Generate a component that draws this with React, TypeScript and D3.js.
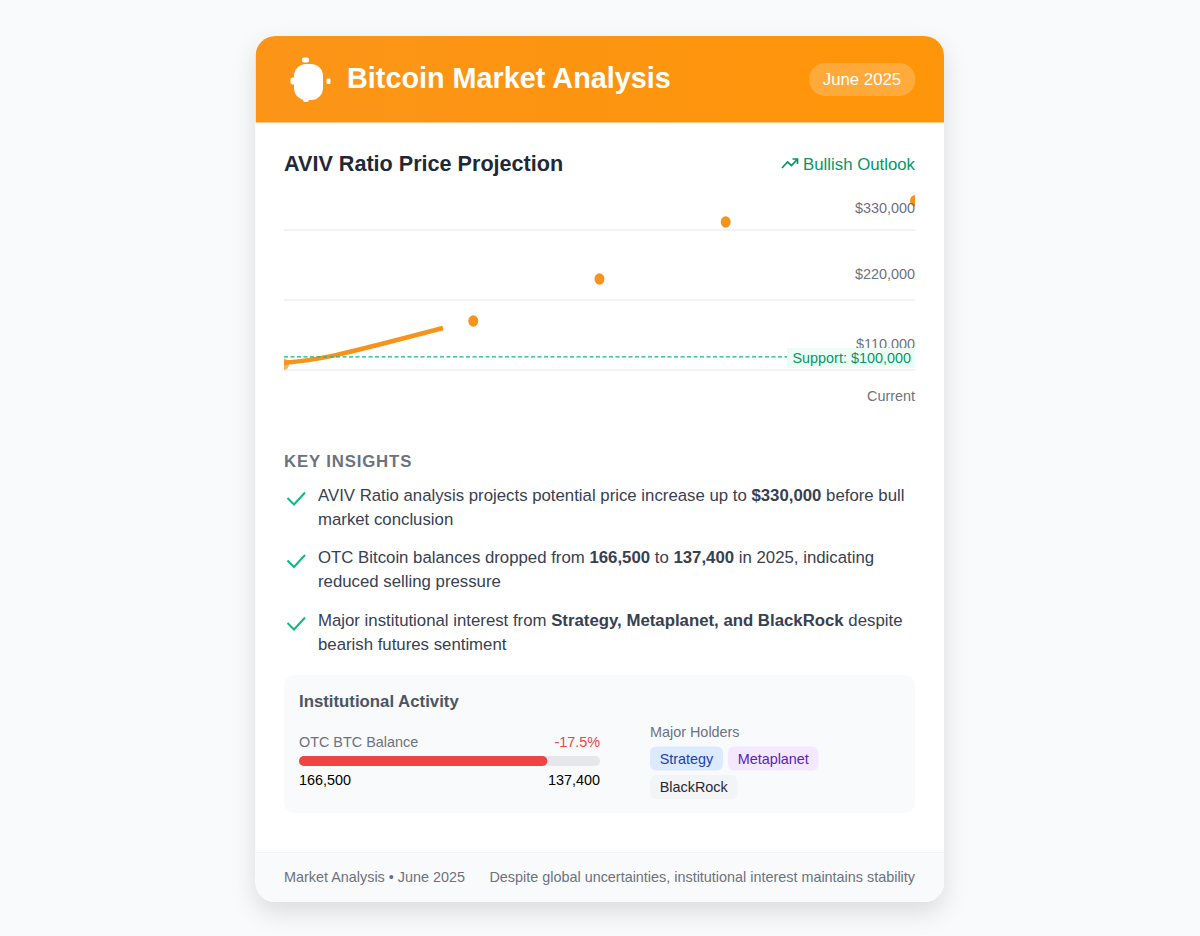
import * as React from "react";
import * as d3 from "d3";

const gridValues = [110000, 220000, 330000];
const gridLabels = ["$110,000", "$220,000", "$330,000"];
// position along the projection, in percent of the plot width
const curvePositions = [0, 8, 25.2];
const curveValues = [121500, 133000, 176000];
const dotPositions = [0, 30, 50, 70, 100];
const dotValues = [119000, 187000, 253000, 342500, 376000];
// the reference draws the support line above its nominal place on the grid
const supportPlotted = 130500;
const supportLabel = "Support: $100,000";

const insights = [
  [["AVIV Ratio analysis projects potential price increase up to ", false], ["$330,000", true], [" before bull", false]],
  [["market conclusion", false]],
  [["OTC Bitcoin balances dropped from ", false], ["166,500", true], [" to ", false], ["137,400", true], [" in 2025, indicating", false]],
  [["reduced selling pressure", false]],
  [["Major institutional interest from ", false], ["Strategy, Metaplanet, and BlackRock", true], [" despite", false]],
  [["bearish futures sentiment", false]],
] as [string, boolean][][];
const insightBaselines = [501, 525, 563, 587, 625.5, 649.5];
const checkOffsets = [0, 62.5, 125];

const otcStart = 166500;
const otcEnd = 137400;

const tags = [
  { name: "Strategy", x: 650, y: 746.5, w: 73, bg: "#dbeafe", fg: "#1e40af" },
  { name: "Metaplanet", x: 728, y: 746.5, w: 90.5, bg: "#f3e8ff", fg: "#5b21b6" },
  { name: "BlackRock", x: 650, y: 775, w: 87.5, bg: "#f3f4f6", fg: "#1f2937" },
];

const font = "'Liberation Sans', Arial, sans-serif";

export default function App() {
  const x = d3.scaleLinear().domain([0, 100]).range([284, 915]);
  const y = d3.scaleLinear().domain([110000, 330000]).range([370, 230]);
  const curve = d3.line<number>()
    .x((d) => x(curvePositions[d]))
    .y((d) => y(curveValues[d]))
    .curve(d3.curveNatural);
  const bar = d3.scaleLinear().domain([0, otcStart]).range([0, 301]);
  const checkPath = "M287.5 498 L294 504.5 L305 492.5";

  return (
    <svg width={1200} height={936} style={{ position: "absolute", left: 0, top: 0 }} fontFamily={font}>
      <defs>
        <filter id="cardShadow" x="-20%" y="-20%" width="140%" height="140%">
          <feDropShadow dx="0" dy="10" stdDeviation="12" floodColor="#000" floodOpacity="0.12" />
        </filter>
        <clipPath id="cardClip">
          <rect x={255.5} y={36} width={688.5} height={866} rx={20} />
        </clipPath>
        <clipPath id="plotClip">
          <rect x={284} y={190} width={631} height={200} />
        </clipPath>
        <linearGradient id="headerFill" x1="0" y1="0" x2="1" y2="0">
          <stop offset="0" stopColor="#fc9418" />
          <stop offset="1" stopColor="#ff9508" />
        </linearGradient>
      </defs>
      <rect width={1200} height={936} fill="#f9fafb" />
      <rect x={255.5} y={36} width={688.5} height={866} rx={20} fill="#fff" filter="url(#cardShadow)" />

      <g clipPath="url(#cardClip)">
        <rect x={255.5} y={36} width={688.5} height={86.5} fill="url(#headerFill)" />
        <rect x={255.5} y={852} width={688.5} height={50} fill="#f9fafb" />
        <line x1={255.5} x2={944} y1={852.5} y2={852.5} stroke="#f3f4f6" />
      </g>

      {/* header icon */}
      <g fill="#fff">
        <rect x={294} y={64} width={29} height={36} rx={12} />
        <rect x={302} y={57.5} width={7} height={5} rx={2} />
        <rect x={290.5} y={77.5} width={6} height={7} rx={2} />
        <rect x={326.5} y={78.5} width={4} height={5.5} rx={1} />
        <rect x={303} y={97} width={6} height={5} rx={2.5} />
      </g>
      <text x={347} y={88} fontSize={28.8} fontWeight={700} fill="#fff">Bitcoin Market Analysis</text>
      <rect x={809} y={63} width={106.5} height={33} rx={16.5} fill="#fff" fillOpacity={0.2} />
      <text x={862} y={85} fontSize={16.8} textAnchor="middle" fill="#fff">June 2025</text>

      {/* chart heading */}
      <text x={284} y={171} fontSize={21.6} fontWeight={700} fill="#1f2937">AVIV Ratio Price Projection</text>
      <path d="M782 168 L787.5 162 L791.5 165.5 L797 159.5 M792.5 159 L797.5 159 L797.5 164" fill="none" stroke="#059669" strokeWidth={1.7} />
      <text x={915} y={169.5} fontSize={16.8} textAnchor="end" fill="#059669">Bullish Outlook</text>

      {/* plot */}
      {gridValues.map((v) => (
        <line key={v} x1={284} x2={915} y1={y(v)} y2={y(v)} stroke="#e5e7eb" strokeWidth={1} />
      ))}
      <g clipPath="url(#plotClip)">
        <path d={curve(curvePositions.map((_, i) => i)) ?? ""} fill="none" stroke="#f7931a" strokeWidth={4.5} />
        {dotPositions.map((p, i) => (
          <ellipse key={p} cx={x(p)} cy={y(dotValues[i])} rx={5} ry={5.7} fill="#f7931a" fillOpacity={i === 0 ? 0.7 : 1} />
        ))}
      </g>
      {gridLabels.map((l, i) => (
        <text key={l} x={915} y={y(gridValues[i]) - (i === 2 ? 17 : 21)} fontSize={14.4} textAnchor="end" fill="#6b7280">{l}</text>
      ))}
      <line x1={284} x2={787} y1={y(supportPlotted)} y2={y(supportPlotted)} stroke="#10b981" strokeWidth={1.2} strokeDasharray="4 2.5" />
      <rect x={787} y={348} width={128} height={20} fill="#ecfdf5" />
      <text x={792.5} y={362.5} fontSize={14.4} fill="#059669">{supportLabel}</text>
      <text x={915} y={401} fontSize={14.4} textAnchor="end" fill="#6b7280">Current</text>

      {/* insights */}
      <text x={284} y={467} fontSize={16.8} fontWeight={700} letterSpacing={0.84} fill="#6b7280">KEY INSIGHTS</text>
      {checkOffsets.map((o) => (
        <path key={o} d={checkPath} transform={`translate(0,${o})`} fill="none" stroke="#10b981" strokeWidth={2} />
      ))}
      {insights.map((line, i) => (
        <text key={i} x={318} y={insightBaselines[i]} fontSize={16.8} fill="#374151">
          {line.map(([t, b], j) => (
            <tspan key={j} fontWeight={b ? 700 : 400} xmlSpace="preserve">{t}</tspan>
          ))}
        </text>
      ))}

      {/* institutional panel */}
      <rect x={284} y={675} width={631} height={138} rx={10} fill="#f9fafb" />
      <text x={299} y={707} fontSize={16.8} fontWeight={700} fill="#4b5563">Institutional Activity</text>
      <text x={299} y={747} fontSize={14.4} fill="#6b7280">OTC BTC Balance</text>
      <text x={600} y={747} fontSize={14.4} textAnchor="end" fill="#ef4444">-17.5%</text>
      <rect x={299} y={756} width={301} height={10} rx={5} fill="#e5e7eb" />
      <rect x={299} y={756} width={bar(otcEnd)} height={10} rx={5} fill="#ef4444" />
      <text x={299} y={785} fontSize={14.4} fill="#000">166,500</text>
      <text x={600} y={785} fontSize={14.4} textAnchor="end" fill="#000">137,400</text>
      <text x={650} y={737} fontSize={14.4} fill="#6b7280">Major Holders</text>
      {tags.map((t) => (
        <g key={t.name}>
          <rect x={t.x} y={t.y} width={t.w} height={24} rx={6} fill={t.bg} />
          <text x={t.x + t.w / 2} y={t.y + 17} fontSize={14.4} textAnchor="middle" fill={t.fg}>{t.name}</text>
        </g>
      ))}

      {/* footer */}
      <text x={284} y={882} fontSize={14.4} fill="#6b7280">Market Analysis • June 2025</text>
      <text x={915} y={882} fontSize={14.4} textAnchor="end" fill="#6b7280">Despite global uncertainties, institutional interest maintains stability</text>
    </svg>
  );
}
